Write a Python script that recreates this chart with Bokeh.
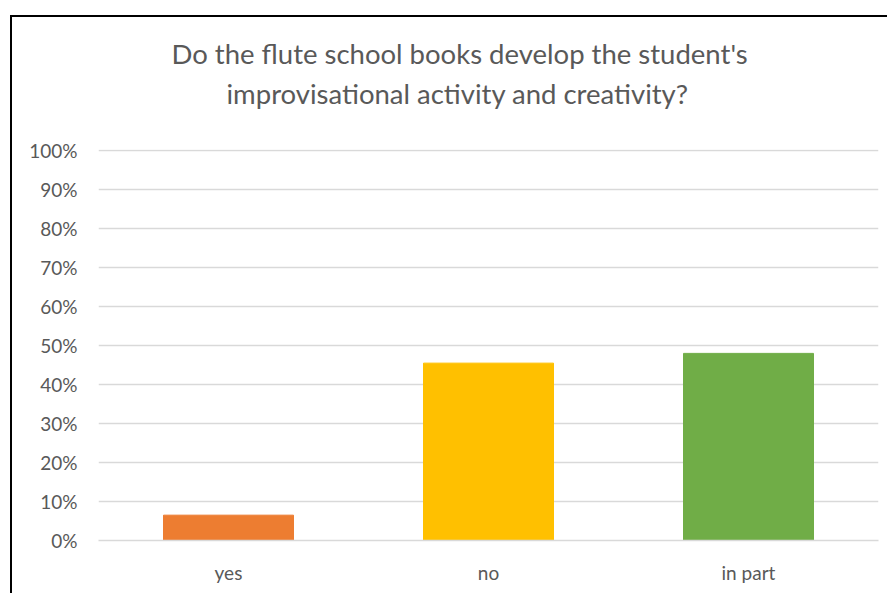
from bokeh.plotting import figure
from bokeh.models import ColumnDataSource, FactorRange, Range1d, FixedTicker, NumeralTickFormatter, Title
from bokeh.embed import file_html
from bokeh.resources import INLINE

title_lines = ["Do the flute school books develop the student's",
               "improvisational activity and creativity?"]
categories = ["yes", "no", "in part"]
shares = [0.065, 0.455, 0.48]
colors = ["#ED7D31", "#FFC000", "#70AD47"]
y_ticks = [i / 10 for i in range(11)]

FONT = "Lato"
TXT = "#595959"

src = ColumnDataSource(dict(cat=categories, val=shares, color=colors))

p = figure(x_range=FactorRange(*categories), y_range=Range1d(0, 1.003),
           width=877, height=578, output_backend="svg", toolbar_location=None,
           min_border_left=86, min_border_right=11, min_border_top=132, min_border_bottom=55,
           background_fill_color="white", border_fill_color="white")
p.outline_line_color = None
p.vbar(x="cat", top="val", width=0.5, color="color", source=src)

p.yaxis.ticker = FixedTicker(ticks=y_ticks)
p.yaxis.formatter = NumeralTickFormatter(format="0%")
p.yaxis.axis_line_color = None
p.yaxis.major_tick_line_color = None
p.yaxis.minor_tick_line_color = None
p.yaxis.major_tick_out = 0
p.yaxis.major_tick_in = 0
p.yaxis.major_label_standoff = 21
p.yaxis.major_label_text_font = FONT
p.yaxis.major_label_text_font_size = "19px"
p.yaxis.major_label_text_color = TXT

p.xaxis.axis_line_color = "#D9D9D9"
p.xaxis.axis_line_width = 1.5
p.xaxis.major_tick_line_color = None
p.xaxis.minor_tick_line_color = None
p.xaxis.major_tick_out = 0
p.xaxis.major_tick_in = 0
p.xaxis.major_label_standoff = 20
p.xaxis.major_label_text_font = FONT
p.xaxis.major_label_text_font_size = "19px"
p.xaxis.major_label_text_color = TXT

p.xgrid.grid_line_color = None
p.ygrid.grid_line_color = "#D9D9D9"
p.ygrid.grid_line_width = 1.5

# spacer closest to the plot, then second title line, then first line above it
p.add_layout(Title(text=" ", text_font_size="1px", standoff=33), "above")
for t, off, so in [(title_lines[1], 128, 8), (title_lines[0], 73, 2)]:
    p.add_layout(Title(text=t, align="left", offset=off, standoff=so,
                       text_font=FONT, text_font_size="27.5px", text_color=TXT,
                       text_font_style="normal"), "above")

p.styles = {"margin-left": "10px", "margin-top": "15px",
            "border-left": "2px solid #000", "border-top": "2px solid #000"}

open("out.html", "w").write(file_html(p, INLINE))
